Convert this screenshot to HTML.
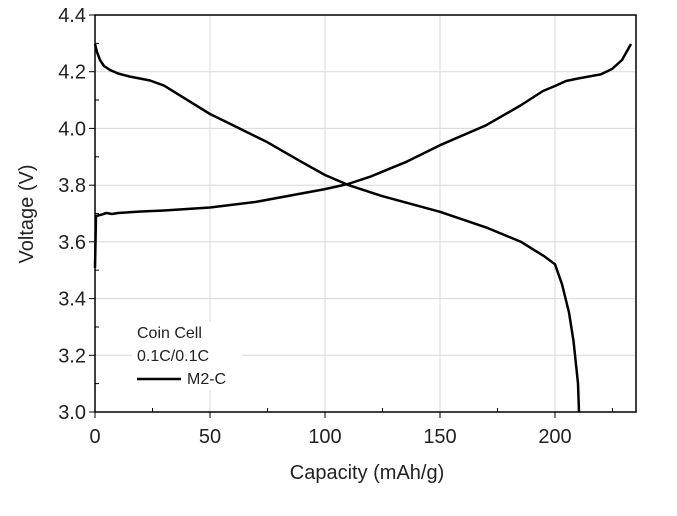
<!DOCTYPE html><html><head><style>body{margin:0;background:#fff}svg{display:block;font-family:"Liberation Sans",Arial,sans-serif}</style></head><body>
<svg width="677" height="516" viewBox="0 0 677 516">
<g stroke="#d8d8d8" stroke-width="1">
<line x1="210" y1="15" x2="210" y2="412"/><line x1="325" y1="15" x2="325" y2="412"/><line x1="440" y1="15" x2="440" y2="412"/><line x1="555" y1="15" x2="555" y2="412"/>
<line x1="95" y1="71.7" x2="636" y2="71.7"/><line x1="95" y1="128.4" x2="636" y2="128.4"/><line x1="95" y1="185.2" x2="636" y2="185.2"/><line x1="95" y1="241.8" x2="636" y2="241.8"/><line x1="95" y1="298.6" x2="636" y2="298.6"/><line x1="95" y1="355.3" x2="636" y2="355.3"/>
</g>
<rect x="132" y="322" width="110" height="68" fill="#fff"/>
<rect x="95" y="15" width="541" height="397" fill="none" stroke="#000" stroke-width="1.5"/>
<g stroke="#000" stroke-width="1">
<line x1="95" y1="412" x2="95" y2="418"/><line x1="210" y1="412" x2="210" y2="418"/><line x1="325" y1="412" x2="325" y2="418"/><line x1="440" y1="412" x2="440" y2="418"/><line x1="555" y1="412" x2="555" y2="418"/>
<line x1="152.5" y1="412" x2="152.5" y2="408"/><line x1="267.5" y1="412" x2="267.5" y2="408"/><line x1="382.5" y1="412" x2="382.5" y2="408"/><line x1="497.5" y1="412" x2="497.5" y2="408"/><line x1="612.5" y1="412" x2="612.5" y2="408"/>
<line x1="89" y1="15" x2="95" y2="15"/><line x1="89" y1="71.7" x2="95" y2="71.7"/><line x1="89" y1="128.4" x2="95" y2="128.4"/><line x1="89" y1="185.2" x2="95" y2="185.2"/><line x1="89" y1="241.8" x2="95" y2="241.8"/><line x1="89" y1="298.6" x2="95" y2="298.6"/><line x1="89" y1="355.3" x2="95" y2="355.3"/><line x1="89" y1="412" x2="95" y2="412"/>
<line x1="95" y1="43.4" x2="99" y2="43.4"/><line x1="95" y1="100" x2="99" y2="100"/><line x1="95" y1="156.8" x2="99" y2="156.8"/><line x1="95" y1="213.5" x2="99" y2="213.5"/><line x1="95" y1="270.2" x2="99" y2="270.2"/><line x1="95" y1="327" x2="99" y2="327"/><line x1="95" y1="383.6" x2="99" y2="383.6"/>
</g>
<g font-size="20" fill="#222" text-anchor="end">
<text x="86" y="22">4.4</text><text x="86" y="78.7">4.2</text><text x="86" y="135.4">4.0</text><text x="86" y="192.2">3.8</text><text x="86" y="248.8">3.6</text><text x="86" y="305.6">3.4</text><text x="86" y="362.3">3.2</text><text x="86" y="419">3.0</text>
</g>
<g font-size="20" fill="#222" text-anchor="middle">
<text x="95" y="443">0</text><text x="210" y="443">50</text><text x="325" y="443">100</text><text x="440" y="443">150</text><text x="555" y="443">200</text>
<text x="367" y="479">Capacity (mAh/g)</text>
<text transform="translate(33,214) rotate(-90)">Voltage (V)</text>
</g>
<g fill="none" stroke="#000" stroke-width="2.5" stroke-linejoin="round">
<path d="M95,268 L96,216 L101,214.8 L106.5,213 L112,214 L118,213 L141,211.5 L164,210.5 L210,207.5 L256,201.9 L302,193.4 L325,189.1 L348,184 L371,176.4 L405.5,162.2 L440,145.2 L486,125.3 L520.5,105.5 L543,91 L555,86 L566,81 L578,78.5 L601,74.3 L612,69 L622,60 L631,44"/>
<path d="M95,44 L97,52 L100,60 L104,66 L110,70 L118,73.5 L129.5,76.5 L150,80.5 L164,85.6 L187,99.8 L210,114 L233,125.3 L267.5,142.3 L302,162.2 L325,175 L348,184.9 L382.5,196.2 L440,211.8 L486,227.4 L520.5,241.6 L543.5,255.8 L555,264.3 L562,284.2 L569,312.5 L573.5,340.9 L578,383.4 L579,412"/>
</g>
<g font-size="16" fill="#222">
<text x="137" y="338">Coin Cell</text><text x="137" y="361">0.1C/0.1C</text><text x="187" y="384">M2-C</text>
</g>
<line x1="137" y1="379" x2="181" y2="379" stroke="#000" stroke-width="2.5"/>
</svg></body></html>
